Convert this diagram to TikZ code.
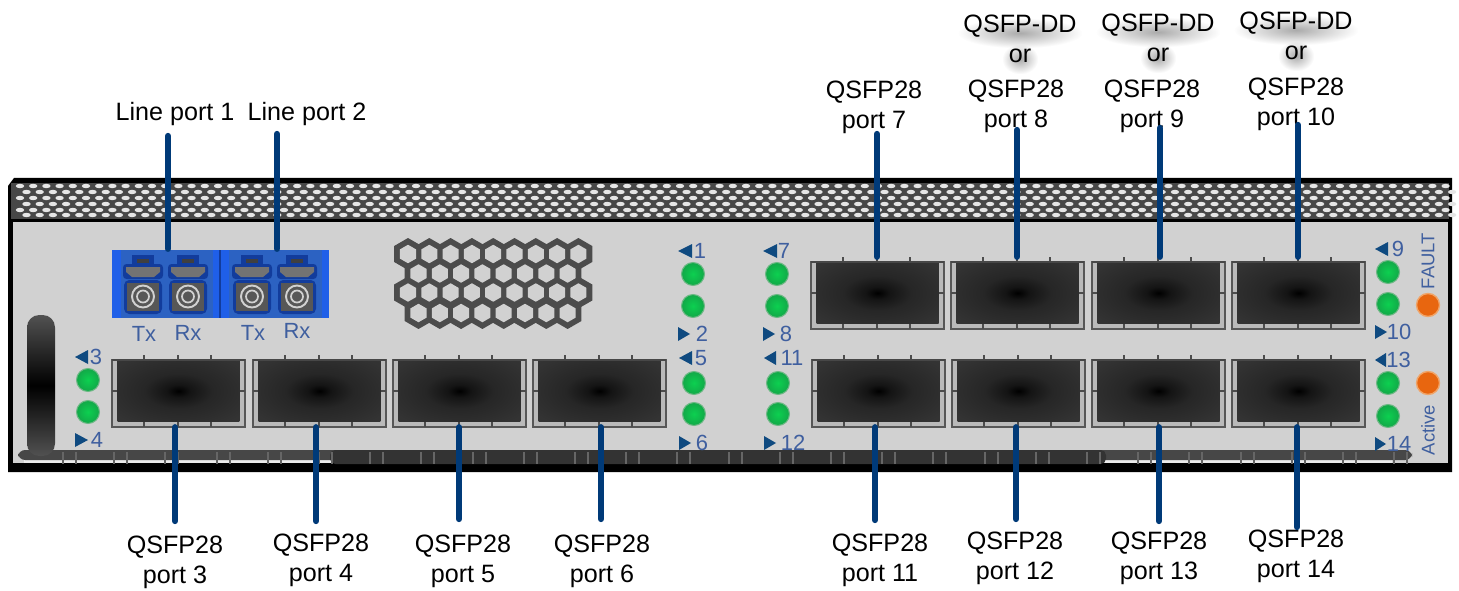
\documentclass[tikz,border=0pt]{standalone}
\usepackage{fontspec}
\setmainfont{Liberation Sans}
\usetikzlibrary{shapes.geometric,fadings}

\definecolor{navyline}{HTML}{003A78}
\definecolor{panelgray}{HTML}{D1D1D1}
\definecolor{tagblue}{HTML}{3F5F9F}
\definecolor{tritip}{HTML}{0F4A80}
\definecolor{lcbright}{HTML}{1F5FE8}
\definecolor{lcmid}{HTML}{2C62C2}
\definecolor{lcnavy}{HTML}{123C9C}
\definecolor{ledcore}{HTML}{0CD050}
\definecolor{ledrim}{HTML}{12A848}
\definecolor{ledline}{HTML}{6CB884}
\definecolor{amber}{HTML}{E8660F}
\definecolor{amberrim}{HTML}{F0A468}

\pgfdeclareradialshading{cagedark}{\pgfpoint{0bp}{0bp}}{color(0bp)=(black);
  color(5bp)=(black!92);color(14bp)=(black!85);color(32bp)=(black!80);color(50bp)=(black!78)}
\tikzfading[name=softout,inner color=transparent!45,outer color=transparent!100]

\tikzset{
  portlabel/.style={align=center,inner sep=0pt,font=\fontsize{14.3}{17}\selectfont},
  leader/.style={navyline,line width=3.6pt,line cap=round,shorten >=2.8pt},
  cagecore/.style={minimum width=2.44cm,minimum height=1.24cm,inner sep=0pt,shading=cagedark},
  cagelight/.style={fill=black!27,draw=black!66,line width=1.1pt},
  cagetick/.style={draw=black!70,line width=1.3pt},
  greenled/.style={circle,minimum size=.46cm,inner sep=0pt,draw=ledline,line width=.6pt,
    inner color=ledcore,outer color=ledrim},
  orangeled/.style={circle,minimum size=.46cm,inner sep=0pt,draw=amberrim,line width=.8pt,fill=amber},
  tagtext/.style={tagblue,inner sep=0pt,font=\fontsize{12.5}{13}\selectfont},
  sidetext/.style={tagblue,inner sep=0pt,rotate=90,font=\fontsize{10.5}{11}\selectfont},
  softshadow/.style={black!60,path fading=softout},
  hexcell/.style={regular polygon,regular polygon sides=6,shape border rotate=30,inner sep=0pt}
}

\begin{document}
\begin{tikzpicture}[x=0.02cm,y=-0.02cm]
  \useasboundingbox[fill=white] (0,0) rectangle (1459,591);

  % chassis and panel
  \fill[black] (8,186) -- (14,178) -- (1452,178) -- (1452,472) -- (8,472) -- cycle;
  \fill[black!72] (11,183) rectangle (1449,219);
  \fill[panelgray] (13,222) rectangle (1448,463);

  % perforated strip on top
  \foreach \r/\yy in {0/186,1/192,2/198,3/204,4/210,5/215}{
    \pgfmathsetmacro{\startx}{mod(\r,2)==0 ? 20 : 26.5}
    \foreach \i in {0,...,108}{
      \fill[black!10] ({\startx+13.2*\i},\yy) ellipse (4.2 and 2.2);
    }
  }

  % bottom rail
  \fill[black!8] (24,458) rectangle (1392,463);
  \fill[black!72,rounded corners=4pt] (18,450) rectangle (1412,460);
  \fill[black!80,rounded corners=3pt] (330,450) rectangle (1106,464);
  \foreach \i in {0,...,26}{
    \fill[black!60] ({62+51.2*\i},452) rectangle ++(2,12);
    \fill[black!60] ({75+51.2*\i},452) rectangle ++(2,12);
  }

  % handle
  \shade[rounded corners=7pt,top color=black!68,bottom color=black!68,middle color=black] (27,315) rectangle (55,456);

  % hex grille
  \foreach \row/\yy/\sx/\num in {0/254/408/8,1/273.5/418.5/7,2/292.5/408/8,3/313/418.5/7}{
    \foreach \i in {0,...,\num}{
      \node[hexcell,minimum size=.64cm,fill=black!70] at ({\sx+21.3*\i},\yy) {};
    }
  }
  \foreach \row/\yy/\sx/\num in {0/254/408/8,1/273.5/418.5/7,2/292.5/408/8,3/313/418.5/7}{
    \foreach \i in {0,...,\num}{
      \node[hexcell,minimum size=.37cm,fill=panelgray] at ({\sx+21.3*\i},\yy) {};
    }
  }

  % line port block
  \node[minimum width=4.34cm,minimum height=1.36cm,inner sep=0pt,fill=lcbright] (lcblock) at (220.5,284) {};
  \fill[lcmid] (121,250) rectangle (213,318);
  \fill[lcmid] (229,250) rectangle (322,318);
  \fill[lcnavy] (219,250) rectangle (221,318);
  \foreach \x in {143,188,252,297}{
    \fill[lcnavy] (\x-11,255) rectangle (\x+11,265);
    \fill[black!75] (\x-6,259) rectangle (\x+6,263);
    \fill[lcnavy,rounded corners=2pt] (\x-20,264) rectangle (\x+20,279);
    \fill[black!55] (\x-17,267) -- (\x+17,267) -- (\x+17,272) -- (\x+11,277) -- (\x-11,277) -- (\x-17,272) -- cycle;
    \fill[lcnavy,rounded corners=3pt] (\x-19,280) rectangle (\x+19,314);
    \fill[black!66] (\x-16,283) rectangle (\x+16,311);
    \draw[black!18,line width=1.1pt] (\x,296.5) circle (11);
    \draw[black!18,line width=1pt] (\x,296.5) circle (6);
  }
  \foreach \n/\txt/\x/\y in {a/Tx/144/334,b/Rx/188/333,c/Tx/253/333,d/Rx/297/331}{
    \node[tagtext] (lc\n) at (\x,\y) {\txt};
  }

  % port cages
  \foreach \n/\x/\y in {3/111/354,4/252/354,5/392/354,6/532/354,
      7/810/256,8/950/256,9/1091/256,10/1231/256,
      11/811/354,12/951/354,13/1091/354,14/1231/354}{
    \begin{scope}[shift={(\x,\y)}]
      \fill[cagelight] (1,6) rectangle (134,73);
      \draw[cagetick] (1,37) -- (7,37) (128,37) -- (134,37);
      \foreach \t in {33,67,100}{
        \draw[cagetick] (\t,1) -- (\t,7) (\t,67) -- (\t,73);
      }
      \node[cagecore] (cage\n) at (67.5,37) {};
      \draw[black!72,line width=1.2pt] (1,6) -- (134,6);
    \end{scope}
  }

  % leds
  \foreach \n/\x/\y in {a/693/274,b/693/306,c/694/383,d/694/414,e/777/274,f/777/306,g/778/383,h/778/414,
      i/88/380,j/88/412,k/1388/272,l/1388/304,m/1388/383,n/1388/416}{
    \node[greenled] (led\n) at (\x,\y) {};
  }
  \node[orangeled] (faultled) at (1428,305) {};
  \node[orangeled] (activeled) at (1428,383) {};

  % led tags, triangle then number
  \foreach \n/\x/\y/\w/\tx in {1/678/251/14/700,5/679/358/13/701,7/763/251/14/784,11/764/358/12/792,3/75/357/13/96,9/1375/249/13/1398,13/1375/360/11/1398.5}{
    \fill[tritip] (\x,\y) -- ++(\w,-7) -- ++(0,14) -- cycle;
    \node[tagtext] (tag\n) at (\tx,\y) {\n};
  }
  \foreach \n/\x/\y/\w/\tx in {2/678/334/12/702,6/679/443/12/702,8/763/334/12/786,12/764/443/12/793,4/75/440/13/97,10/1375/332/12/1399,14/1375/444/11/1399}{
    \fill[tritip] (\x,\y-7) -- ++(\w,7) -- ++(-\w,7) -- cycle;
    \node[tagtext] (tag\n) at (\tx,\y) {\n};
  }
  \node[sidetext] (faulttxt) at (1428,261) {FAULT};
  \node[sidetext] (activetxt) at (1428,430) {Active};

  % labels on top
  \node[portlabel] (line1) at (175,114) {Line port 1};
  \node[portlabel] (line2) at (307,114) {Line port 2};
  \node[portlabel] (lbl7) at (874,107) {QSFP28\\port 7};
  \node[portlabel] (lbl8) at (1016,106) {QSFP28\\port 8};
  \node[portlabel] (lbl9) at (1152,106) {QSFP28\\port 9};
  \node[portlabel] (lbl10) at (1296,104) {QSFP28\\port 10};
  \foreach \n/\x/\y in {8/1020/24,9/1158/23,10/1296/21}{
    \fill[softshadow] (\x-62,\y-6) rectangle (\x+62,\y+24);
    \fill[softshadow] (\x-18,\y+20) rectangle (\x+18,\y+50);
    \node[portlabel] (dd\n) at (\x,\y+2) {QSFP-DD};
    \node[portlabel] (or\n) at (\x,\y+32) {or};
  }

  % labels below
  \node[portlabel] (lbl3) at (175,562) {QSFP28\\port 3};
  \node[portlabel] (lbl4) at (321,560) {QSFP28\\port 4};
  \node[portlabel] (lbl5) at (463,561) {QSFP28\\port 5};
  \node[portlabel] (lbl6) at (602,561) {QSFP28\\port 6};
  \node[portlabel] (lbl11) at (880,560) {QSFP28\\port 11};
  \node[portlabel] (lbl12) at (1015,558) {QSFP28\\port 12};
  \node[portlabel] (lbl13) at (1159,558) {QSFP28\\port 13};
  \node[portlabel] (lbl14) at (1296,556) {QSFP28\\port 14};

  % leader lines
  \foreach \n/\x/\y in {3/175/521,4/316/521,5/459/519,6/601/519,11/875/520,12/1016/519,13/1159/521,14/1297/527,
      7/877/134,8/1017/130,9/1160/128,10/1298/125}{
    \coordinate (lead\n) at (\x,\y);
  }
  \foreach \n in {3,4,5,6,11,12,13,14}{
    \draw[leader] (lead\n) -- (lead\n |- cage\n.south);
  }
  \foreach \n in {7,8,9,10}{
    \draw[leader] (lead\n) -- (lead\n |- cage\n.north);
  }
  \coordinate (leadline1) at (168,136);
  \coordinate (leadline2) at (277,134);
  \draw[leader,shorten >=.5pt] (leadline1) -- (leadline1 |- lcblock.north);
  \draw[leader,shorten >=.5pt] (leadline2) -- (leadline2 |- lcblock.north);
\end{tikzpicture}
\end{document}
